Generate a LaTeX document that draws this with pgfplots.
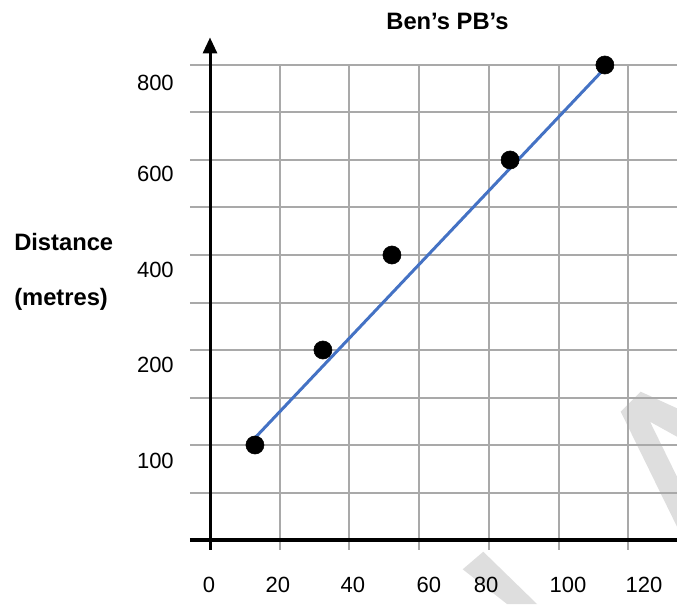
\documentclass[border=0pt]{standalone}
\usepackage{fontspec}
\setmainfont{Liberation Sans}
\usepackage{pgfplots}
\pgfplotsset{compat=1.18}
\usetikzlibrary{arrows.meta}
\definecolor{gridgrey}{HTML}{A9A9A9}
\definecolor{fitblue}{HTML}{4472C4}
\definecolor{wmark}{HTML}{DEDEDE}

\begin{document}
\begin{tikzpicture}
% frame in reference pixels: 1px = 0.75pt, axis origin at px (210,540)
\begin{scope}[x=0.75pt,y=-0.75pt,xshift=-157.5pt,yshift=405pt]
  % faint watermark strokes
  \fill[wmark] (620.7,411.7) -- (640.7,391.7) -- (677,408.3) -- (677,436.7)
    -- (650,421.7) -- (677,476.7) -- (677,526.7) -- cycle;
  \fill[wmark] (462.7,569.3) -- (483.3,551.7) -- (537,604) -- (507,604) -- cycle;
\end{scope}

% y is in grid steps: the distance labels 100,200,400,600,800 sit on steps 2,4,6,8,10
\begin{axis}[
    anchor=origin, at={(0pt,0pt)},
    x=2.614pt, y=35.625pt,
    xmin=-5.74, xmax=134, ymin=-0.21, ymax=10,
    clip=false,
    axis line style={draw=none},
    tick style={draw=none},
    major tick length=0pt,
    xtick={0,20,...,120}, xticklabels={},
    ytick={0,1,...,10}, yticklabels={},
    grid=major,
    grid style={gridgrey, line width=1.5pt},
    extra x ticks={-0.3,19.5,41,62.8,79.2,102.7,124.5},
    extra x tick labels={0,20,40,60,80,100,120},
    extra y ticks={1.663,3.684,5.695,7.705,9.624},
    extra y tick labels={100,200,400,600,800},
    extra tick style={grid=none},
    xticklabel style={font=\fontsize{16.5}{19}\selectfont, inner sep=0pt, anchor=base, yshift=-32.25pt},
    yticklabel style={font=\fontsize{16.5}{19}\selectfont, inner sep=0pt, anchor=east, xshift=-12pt},
  ]
  \addplot[only marks, mark=*, mark size=6.8pt, black] coordinates {
    (12.9,2) (32.4,4) (52.2,6) (86.1,8) (113.3,10)
  };
  % line of best fit
  \addplot[fitblue, line width=2.25pt] coordinates {
    (12.6,2.126) (113.6,9.958)
  };
  \draw[line width=2.5pt] (axis cs:-5.74,0) -- (axis cs:134,0);
  \draw[line width=2.25pt, -{Triangle[width=10.5pt,length=12pt]}]
    (axis cs:0,-0.21) -- (axis cs:0,10.58);
\end{axis}

\begin{scope}[x=0.75pt,y=-0.75pt,xshift=-157.5pt,yshift=405pt]
  \node[font=\bfseries\fontsize{17.8}{20}\selectfont, anchor=base, inner sep=0pt]
    at (447.5,29.3) {Ben’s PB’s};
  \node[font=\bfseries\fontsize{17.8}{20}\selectfont, anchor=base west, inner sep=0pt]
    at (14,250.5) {Distance};
  \node[font=\bfseries\fontsize{17.8}{20}\selectfont, anchor=base west, inner sep=0pt]
    at (14,305) {(metres)};
  \pgfresetboundingbox
  \path[use as bounding box] (0,0) rectangle (677,604);
\end{scope}
\end{tikzpicture}
\end{document}
